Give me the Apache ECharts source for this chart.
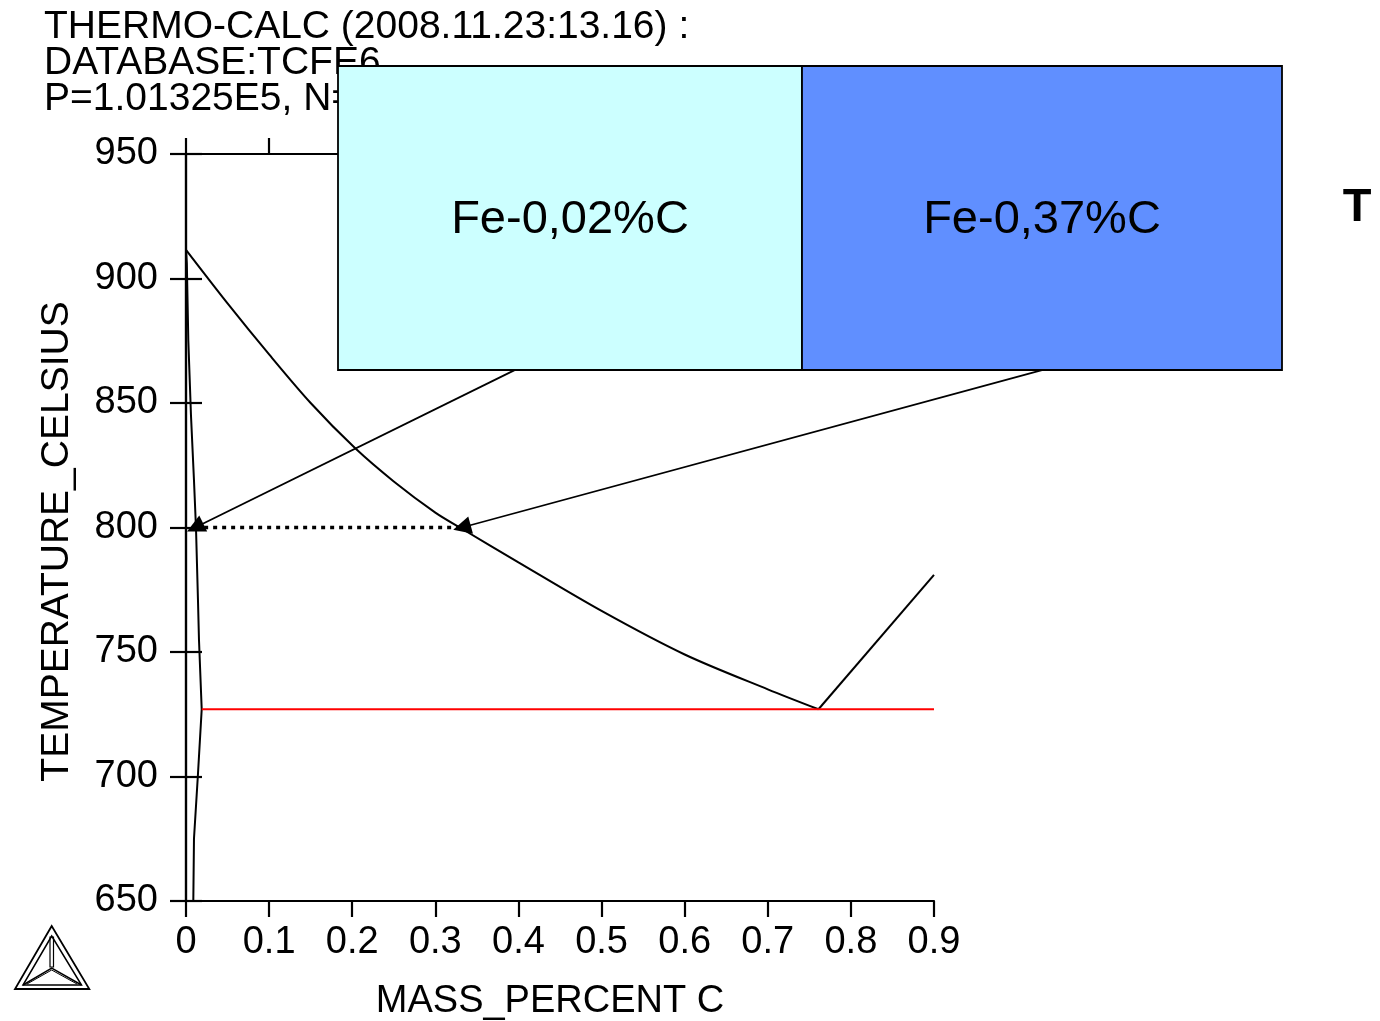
<!DOCTYPE html>
<html><head><meta charset="utf-8">
<script src="https://cdn.jsdelivr.net/npm/echarts@6/dist/echarts.min.js"></script>
<style>html,body{margin:0;padding:0;background:#fff}#c{width:1380px;height:1021px}</style>
</head><body><div id="c"></div>
<script>
// ---- data ----
const headerLines = ['THERMO-CALC (2008.11.23:13.16) :', 'DATABASE:TCFE6', 'P=1.01325E5, N=1'];
const xAxisName = 'MASS_PERCENT C';
const yAxisName = 'TEMPERATURE_CELSIUS';
const xRange = [0, 0.9];
const yRange = [650, 950];
// gamma / (alpha+gamma) boundary (A3)
const gammaBoundary = [[0,911.5],[0.05,890],[0.1,869.5],[0.15,850],[0.203,832],[0.25,818.5],[0.3,806],[0.332,799.5],[0.4,786],[0.5,766.5],[0.6,749],[0.7,735],[0.761,727]];
// alpha / (alpha+gamma) boundary and alpha solvus
const alphaBoundary = [[0,911.5],[0.001,906],[0.0028,875],[0.006,845],[0.0096,819],[0.012,800],[0.0144,771],[0.0156,755],[0.0189,727],[0.0144,701],[0.0096,675],[0.0088,650]];
// gamma / (gamma+cementite) boundary (Acm)
const acmBoundary = [[0.761,727],[0.9,781]];
// eutectoid line
const eutectoid = [[0.019,727],[0.9,727]];
// tie line at 800 C
const tieLine = [[0.011,800],[0.332,800]];
// labelled arrows: from box edge to compositions
const arrowLabels = ['Fe-0,02%C', 'Fe-0,37%C'];
const arrowFrom = [[0.396,863.3],[1.031,863.3]];
const arrowTo = [[0.011,800],[0.332,800]];
const sideText = 'T';

const chart = echarts.init(document.getElementById('c'), null, {renderer:'canvas'});
const FONT = 'Liberation Sans, Arial, Helvetica, sans-serif';
const axisCommon = {
  splitLine:{show:false},
  axisLine:{show:true, lineStyle:{color:'#000', width:2.2}},
  axisTick:{show:true, inside:false, length:16, lineStyle:{color:'#000', width:2.2}},
};
const GX0 = 186, GX1 = 934, GY0 = 154, GY1 = 901;

const option = {
  backgroundColor:'#fff',
  animation:false,
  title:{
    text: headerLines.join('\n'), left: 39, top: 4,
    textStyle:{fontFamily:FONT, fontSize:39, fontWeight:'normal', color:'#000', lineHeight:36}
  },
  grid:{left:GX0, right:1380-GX1, top:GY0, bottom:1021-GY1, containLabel:false, outerBoundsMode:'none'},
  xAxis:[
    Object.assign({}, axisCommon, {type:'value', position:'bottom', min:xRange[0], max:xRange[1], interval:0.1,
      name:xAxisName, nameLocation:'middle', nameGap:82,
      nameTextStyle:{fontFamily:FONT, fontSize:38, color:'#000', padding:[0,20,0,0]},
      axisLabel:{fontFamily:FONT, fontSize:38, color:'#000', margin:23, formatter:v=>String(+v.toFixed(1))}}),
    Object.assign({}, axisCommon, {type:'value', position:'top', min:xRange[0], max:xRange[1], interval:0.1,
      axisLabel:{show:false}})
  ],
  yAxis:[
    Object.assign({}, axisCommon, {type:'value', position:'left', min:yRange[0], max:yRange[1], interval:50,
      name:yAxisName, nameLocation:'middle', nameGap:109,
      nameTextStyle:{fontFamily:FONT, fontSize:39, color:'#000', padding:[0,28,0,0]},
      axisLabel:{fontFamily:FONT, fontSize:38, color:'#000', margin:28}}),
    Object.assign({}, axisCommon, {type:'value', position:'right', min:yRange[0], max:yRange[1], interval:50,
      axisLabel:{show:false}})
  ],
  series:[
    {type:'line', name:'gamma', data:gammaBoundary, symbol:'none', smooth:0.3, lineStyle:{color:'#000', width:2}, z:3},
    {type:'line', name:'alpha', data:alphaBoundary, symbol:'none', lineStyle:{color:'#000', width:2}, z:3},
    {type:'line', name:'acm', data:acmBoundary, symbol:'none', lineStyle:{color:'#000', width:2}, z:3},
    {type:'line', name:'eutectoid', data:eutectoid, symbol:'none', lineStyle:{color:'#ff0000', width:2}, z:3},
    {type:'line', name:'tie', data:tieLine, symbol:'none', lineStyle:{color:'#000', width:3.5, type:[4,5]}, z:4},
    {type:'lines', coordinateSystem:'cartesian2d', clip:false, z:5,
      symbol:['none','triangle'], symbolSize:18,
      lineStyle:{color:'#000', width:1.8, opacity:1, curveness:0},
      data: arrowFrom.map((f,i)=>({name:arrowLabels[i], coords:[f, arrowTo[i]]}))}
  ],
  graphic:[
    {type:'rect', z:100, shape:{x:338, y:66, width:464, height:304}, style:{fill:'#ccffff', stroke:'#000', lineWidth:1.8}},
    {type:'rect', z:100, shape:{x:802, y:66, width:480, height:304}, style:{fill:'#608fff', stroke:'#000', lineWidth:1.8}},
    {type:'text', z:101, x:570, y:220, style:{text:arrowLabels[0], font:'47px '+FONT, fill:'#000', align:'center', verticalAlign:'middle'}},
    {type:'text', z:101, x:1042, y:220, style:{text:arrowLabels[1], font:'47px '+FONT, fill:'#000', align:'center', verticalAlign:'middle'}},
    {type:'text', z:101, x:1357, y:208, style:{text:sideText, font:'bold 47px '+FONT, fill:'#000', align:'center', verticalAlign:'middle'}},
    // logo
    {type:'polygon', z:50, shape:{points:[[51.7,926],[15,989],[89.3,989]]}, style:{fill:'none', stroke:'#000', lineWidth:1.8}},
    {type:'polygon', z:50, shape:{points:[[51.7,936],[23,985],[81.5,985]]}, style:{fill:'none', stroke:'#000', lineWidth:1.5}},
    {type:'polyline', z:50, shape:{points:[[23,985],[51.7,968],[81.5,985]]}, style:{fill:'none', stroke:'#000', lineWidth:1.5}},
    {type:'polyline', z:50, shape:{points:[[27,984],[51.7,970],[77,984]]}, style:{fill:'none', stroke:'#000', lineWidth:1}},
    {type:'rect', z:50, shape:{x:50, y:937, width:3.5, height:30}, style:{fill:'none', stroke:'#000', lineWidth:1.2}}
  ]
};
chart.setOption(option);
</script>
</body></html>
